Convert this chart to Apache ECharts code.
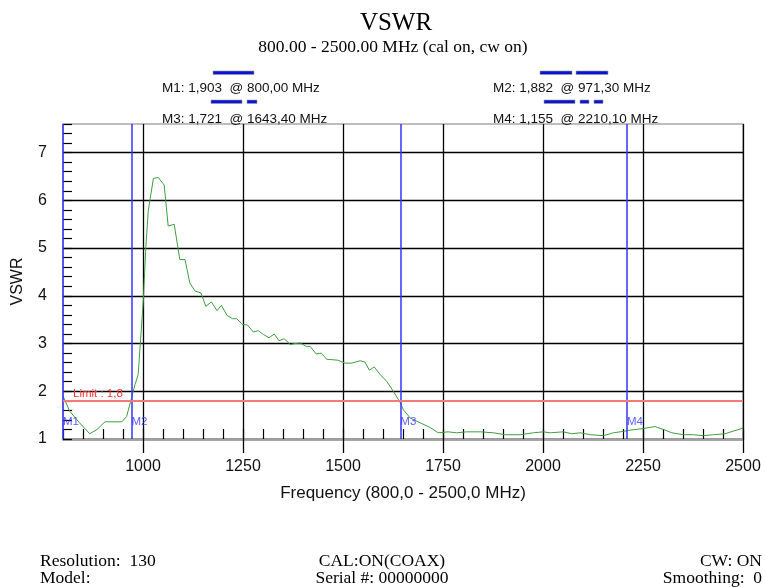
<!DOCTYPE html>
<html>
<head>
<meta charset="utf-8">
<script src="https://cdn.jsdelivr.net/npm/echarts@6/dist/echarts.min.js"></script>
<style>
html,body{margin:0;padding:0;background:#fff;}
#chart{width:765px;height:587px;}
</style>
</head>
<body>
<div id="chart"></div>
<script>
// ---- data ----
const freqs = [800, 817, 840, 867, 885, 905, 947, 959, 971, 980, 988, 1001, 1007, 1013, 1026, 1038, 1053, 1063, 1078, 1092,
  1105, 1117, 1130, 1145, 1157, 1171, 1185, 1196, 1210, 1224, 1234, 1249, 1261, 1276, 1288, 1301, 1315, 1328, 1340, 1353,
  1368, 1380, 1393, 1408, 1418, 1433, 1446, 1459, 1476, 1488, 1505, 1522, 1543, 1555, 1566, 1578, 1592, 1609, 1626, 1643,
  1651, 1668, 1693, 1718, 1738, 1763, 1784, 1809, 1843, 1876, 1905, 1943, 1976, 2001, 2018, 2051, 2072, 2093, 2118, 2151,
  2176, 2201, 2213, 2251, 2280, 2301, 2322, 2351, 2376, 2401, 2426, 2455, 2500];
const vswr = [1.90, 1.58, 1.35, 1.11, 1.20, 1.36, 1.36, 1.47, 1.85, 2.14, 2.35, 3.94, 5.00, 5.77, 6.46, 6.48, 6.32, 5.46, 5.50, 4.76,
  4.76, 4.27, 4.10, 4.06, 3.78, 3.87, 3.69, 3.80, 3.59, 3.52, 3.52, 3.40, 3.39, 3.24, 3.27, 3.19, 3.12, 3.20, 3.06, 3.10,
  2.98, 3.00, 3.01, 2.94, 2.94, 2.78, 2.80, 2.67, 2.66, 2.65, 2.59, 2.59, 2.64, 2.61, 2.44, 2.51, 2.36, 2.21, 2.00, 1.76,
  1.61, 1.44, 1.34, 1.24, 1.13, 1.15, 1.13, 1.15, 1.15, 1.13, 1.09, 1.09, 1.13, 1.15, 1.13, 1.15, 1.11, 1.13, 1.09, 1.07,
  1.13, 1.16, 1.18, 1.22, 1.26, 1.20, 1.13, 1.09, 1.09, 1.07, 1.09, 1.11, 1.23];
const markerNames = ['M1', 'M2', 'M3', 'M4'];
const markerFreqs = [800.00, 971.30, 1643.40, 2210.10];
const markerValues = [1.903, 1.882, 1.721, 1.155];
const limitValue = 1.8;
const xTickValues = [1000, 1250, 1500, 1750, 2000, 2250, 2500];
const yTickValues = [1, 2, 3, 4, 5, 6, 7];
const footerLeft = ['Resolution:  130', 'Model:'];
const footerMid = ['CAL:ON(COAX)', 'Serial #: 00000000'];
const footerRight = ['CW: ON', 'Smoothing:  0'];

// ---- helpers ----
const comma = (v, d) => v.toFixed(d).replace('.', ',');
const markerText = i => markerNames[i] + ': ' + comma(markerValues[i], 3) + '  @ ' + comma(markerFreqs[i], 2) + ' MHz';

const chart = echarts.init(document.getElementById('chart'));
const sans = 'Arial, "Liberation Sans", sans-serif';
const serif = '"Times New Roman", "Liberation Serif", serif';
const BLUE = '#0a14d2';

const legendBars = [
  [213, 71, 41, 3.5],
  [540, 71, 32, 3.5], [576, 71, 32, 3.5],
  [211, 100, 31, 3.5], [247, 100, 10, 3.5],
  [544, 100, 31, 3.5], [580, 100, 9, 3.5], [594, 100, 9, 3.5]
];

const graphics = [
  { type: 'text', x: 396, y: 23, style: { text: 'VSWR', font: '25px ' + serif, fill: '#000', textAlign: 'center', textVerticalAlign: 'middle' } },
  { type: 'text', x: 393, y: 47, style: { text: '800.00 - 2500.00 MHz (cal on, cw on)', font: '17.5px ' + serif, fill: '#000', textAlign: 'center', textVerticalAlign: 'middle' } }
];
[[162, 88, 0], [493, 88, 1], [162, 119, 2], [493, 119, 3]].forEach(p => graphics.push({
  type: 'text', x: p[0], y: p[1],
  style: { text: markerText(p[2]), font: '13.5px ' + sans, fill: '#111', textAlign: 'left', textVerticalAlign: 'middle' }
}));
legendBars.forEach(b => graphics.push({
  type: 'rect', shape: { x: b[0], y: b[1], width: b[2], height: b[3] },
  style: { fill: BLUE, stroke: '#9a9a9a', lineWidth: 0.6 }
}));
[footerLeft, footerMid, footerRight].forEach((col, ci) => {
  col.forEach((t, ri) => graphics.push({
    type: 'text', x: [40, 382, 762][ci], y: 561 + ri * 17,
    style: { text: t, font: '17.5px ' + serif, fill: '#000', textAlign: ['left', 'center', 'right'][ci], textVerticalAlign: 'middle' }
  }));
});

const markLineData = markerFreqs.map(f => ({ xAxis: f, lineStyle: { color: '#3535ff', width: 1.5, type: 'solid' }, label: { show: false } }));
markLineData.push({
  yAxis: limitValue,
  lineStyle: { color: '#f47a7a', width: 2, type: 'solid' },
  label: { show: true, formatter: 'Limit : ' + comma(limitValue, 1), position: 'insideStartTop', distance: [10, 1], color: '#ff3030', fontSize: 11.5, fontFamily: sans }
});

const option = {
  animation: false,
  backgroundColor: '#fff',
  grid: { left: 63, right: 22, top: 124, bottom: 148, show: true, borderColor: '#a8a8a8', borderWidth: 1.5, backgroundColor: 'transparent' },
  graphic: graphics,
  xAxis: [{
    type: 'value', min: 800, max: 2500, position: 'bottom',
    axisLine: { show: true, onZero: false, lineStyle: { color: '#a0a0a0', width: 2.5 } },
    axisTick: { show: true, inside: false, length: 14, customValues: xTickValues, lineStyle: { color: '#000', width: 1.3 } },
    axisLabel: { customValues: xTickValues, formatter: v => String(v), fontSize: 16, color: '#111', margin: 20, fontFamily: sans },
    splitLine: { show: true, lineStyle: { color: '#000', width: 1.3 } },
    name: 'Frequency (800,0 - 2500,0 MHz)', nameLocation: 'middle', nameGap: 46,
    nameTextStyle: { fontSize: 17, color: '#111', fontFamily: sans }
  }, {
    type: 'value', min: 800, max: 2500, interval: 50, position: 'bottom', offset: 0,
    axisLine: { show: false },
    axisTick: { show: true, inside: true, length: 10, lineStyle: { color: '#000', width: 1.2 } },
    axisLabel: { show: false },
    splitLine: { show: false }
  }],
  yAxis: [{
    type: 'value', min: 1, max: 7.6, position: 'left',
    axisLine: { show: false },
    axisTick: { show: false, customValues: yTickValues },
    axisLabel: { customValues: yTickValues, formatter: v => String(v), fontSize: 16, color: '#111', margin: 16, fontFamily: sans },
    splitLine: { show: true, lineStyle: { color: '#000', width: 1.3 } },
    name: 'VSWR', nameLocation: 'middle', nameGap: 37,
    nameTextStyle: { fontSize: 16, color: '#111', fontFamily: sans }
  }, {
    type: 'value', min: 1, max: 7.6, interval: 0.2, position: 'left', offset: 0,
    axisLine: { show: false },
    axisTick: { show: true, inside: true, length: 9, lineStyle: { color: '#000', width: 1.2 } },
    axisLabel: { show: false },
    splitLine: { show: false }
  }],
  series: [{
    type: 'line',
    xAxisIndex: 0, yAxisIndex: 0,
    data: freqs.map((f, i) => [f, vswr[i]]),
    showSymbol: false, symbol: 'none',
    lineStyle: { color: '#3f9f3f', width: 1 },
    z: 3,
    markLine: { silent: true, symbol: 'none', animation: false, data: markLineData }
  }, {
    type: 'scatter',
    xAxisIndex: 0, yAxisIndex: 0,
    data: markerFreqs.map((f, i) => ({ value: [f, 1.36], name: markerNames[i] })),
    symbolSize: 0,
    label: { show: true, formatter: p => p.name, position: 'right', distance: 0, color: '#3535ff', fontSize: 11.5, fontFamily: sans },
    z: 4, silent: true
  }]
};
chart.setOption(option);
</script>
</body>
</html>
